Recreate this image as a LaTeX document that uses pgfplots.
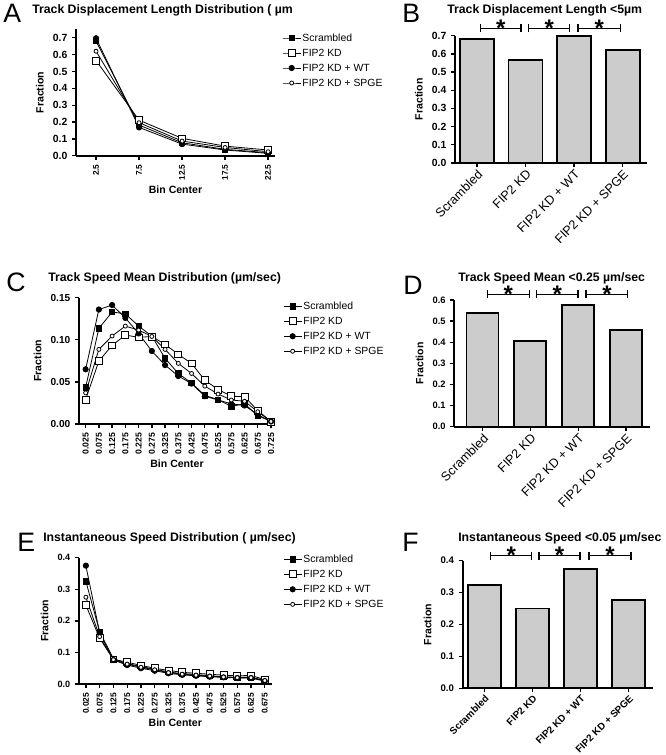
\documentclass[border=0pt]{standalone}
\usepackage{fontspec}
\setmainfont{Liberation Sans}
\usepackage{pgfplots}
\usepackage{pgfplotstable}
\pgfplotsset{compat=1.18}
\usetikzlibrary{arrows.meta}

\pgfplotstableread{
x s k w p
2.5 0.680 0.565 0.697 0.620
7.5 0.182 0.211 0.168 0.196
12.5 0.077 0.103 0.069 0.087
17.5 0.038 0.057 0.034 0.049
22.5 0.018 0.034 0.014 0.024
}\tabA

\pgfplotstableread{
x s k w p
0.025 0.0435 0.0290 0.0650 0.0370
0.075 0.1136 0.0748 0.1360 0.0886
0.125 0.1330 0.0934 0.1413 0.1045
0.175 0.1310 0.1057 0.1260 0.1163
0.225 0.1163 0.1029 0.1076 0.1116
0.275 0.1045 0.1040 0.0867 0.1040
0.325 0.0780 0.0946 0.0700 0.0886
0.375 0.0600 0.0827 0.0570 0.0720
0.425 0.0487 0.0720 0.0480 0.0600
0.475 0.0340 0.0520 0.0330 0.0450
0.525 0.0290 0.0410 0.0285 0.0356
0.575 0.0210 0.0330 0.0240 0.0285
0.625 0.0240 0.0324 0.0220 0.0270
0.675 0.0100 0.0160 0.0110 0.0146
0.725 0.0030 0.0030 0.0030 0.0030
}\tabC

\pgfplotstableread{
x s k w p
0.025 0.325 0.250 0.375 0.275
0.075 0.166 0.145 0.162 0.150
0.125 0.080 0.078 0.076 0.077
0.175 0.065 0.069 0.060 0.063
0.225 0.055 0.059 0.050 0.053
0.275 0.047 0.050 0.042 0.045
0.325 0.038 0.043 0.034 0.036
0.375 0.033 0.037 0.029 0.031
0.425 0.030 0.034 0.026 0.028
0.475 0.026 0.031 0.023 0.025
0.525 0.023 0.028 0.021 0.022
0.575 0.021 0.026 0.019 0.020
0.625 0.021 0.027 0.019 0.020
0.675 0.012 0.014 0.009 0.011
}\tabE

\tikzset{
  brk/.style={line width=1pt, {Bar[width=6pt]}-{Bar[width=6pt]}},
  ast/.style={font=\bfseries\fontsize{18}{18}\selectfont, anchor=base, inner sep=0pt, yshift=-6.2pt},
}

\pgfplotsset{
  legend image code/.code={\draw[mark repeat=2,mark phase=2,#1] plot coordinates {(0pt,0pt) (6.75pt,0pt) (13.5pt,0pt)};},
  gp/.style={scale only axis, anchor=south west, axis lines=left,
    axis line style={line width=1.4pt,-},
    every tick/.style={line width=1pt,black},
    tick align=outside, major tick length=3pt,
    /pgf/number format/assume math mode=true,
    tick label style={font=\bfseries\fontsize{7}{8}\selectfont},
    label style={font=\bfseries\fontsize{7.9}{9}\selectfont},
    ylabel={Fraction}, clip=false},
  lin/.style={gp, xlabel={Bin Center}, legend cell align=left,
    xlabel style={yshift=3pt},
    xticklabel style={rotate=90, anchor=east},
    legend style={at={(axis description cs:1,1)}, anchor=north west, draw=none, fill=none,
      inner sep=0pt, font=\fontsize{7.8}{9}\selectfont,
      nodes={text height=6pt, text depth=1pt, inner sep=1pt}, row sep=2.25pt}},
  bars/.style={gp, xmin=-0.45, xmax=3.5, xtick={0,1,2,3},
    xticklabels={Scrambled,FIP2 KD,FIP2 KD + WT,FIP2 KD + SPGE},
    xticklabel style={rotate=45, anchor=north east, inner sep=1pt, font=\fontsize{9.5}{10}\selectfont}},
  sc/.style={black, line width=0.6pt, mark=square*, mark size=2pt, mark options={solid, fill=black}},
  kd/.style={black, line width=0.6pt, mark=square*, mark size=2.6pt, mark options={solid, fill=white}},
  wt/.style={black, line width=0.6pt, mark=*, mark size=2pt, mark options={solid, fill=black}},
  sp/.style={black, line width=0.6pt, mark=*, mark size=1.5pt, mark options={solid, fill=white}},
  br/.style={fill=black!20, draw=black, line width=1.4pt},
}

\begin{document}
\begin{tikzpicture}
\useasboundingbox (0,0) rectangle (498.75pt,-566.25pt);

% ---------- A ----------
\begin{axis}[lin, at={(57pt,-116.8pt)}, width=149.25pt, height=94.8pt,
  xmin=0.17, xmax=23.3, ymin=0, ymax=0.75,
  xtick={2.5,7.5,12.5,17.5,22.5}, ytick={0,0.1,0.2,0.3,0.4,0.5,0.6,0.7},
  xticklabel style={font=\bfseries\fontsize{6.2}{7}\selectfont, /pgf/number format/.cd, fixed, fixed zerofill, precision=1},
  yticklabel style={font=\bfseries\fontsize{7.8}{8}\selectfont, /pgf/number format/.cd, fixed, fixed zerofill, precision=1},
  legend style={xshift=5.25pt, yshift=-1.8pt}]
\addplot[sc] table[x=x,y=s] \tabA;
\addplot[kd] table[x=x,y=k] \tabA;
\addplot[wt] table[x=x,y=w] \tabA;
\addplot[sp] table[x=x,y=p] \tabA;
\legend{Scrambled,FIP2 KD,FIP2 KD + WT,FIP2 KD + SPGE}
\end{axis}

% ---------- B ----------
\begin{axis}[bars, at={(341.25pt,-122.25pt)}, width=144pt, height=95.5pt,
  ymin=0, ymax=0.7, ytick={0,0.1,0.2,0.3,0.4,0.5,0.6,0.7},
  yticklabel style={font=\bfseries\fontsize{7.8}{8}\selectfont, /pgf/number format/.cd, fixed, fixed zerofill, precision=1}]
\addplot[br, ybar, bar width=25.5pt] coordinates {(0,0.680) (1,0.565) (2,0.697) (3,0.620)};
\draw[brk] (axis cs:0.06,0.74) -- (axis cs:0.92,0.74);
\draw[brk] (axis cs:1.05,0.74) -- (axis cs:1.92,0.74);
\draw[brk] (axis cs:2.07,0.74) -- (axis cs:2.97,0.74);
\node[ast] at (axis cs:0.49,0.74) {*};
\node[ast] at (axis cs:1.49,0.74) {*};
\node[ast] at (axis cs:2.52,0.74) {*};
\end{axis}

% ---------- C ----------
\begin{axis}[lin, at={(59.25pt,-318pt)}, width=147pt, height=94.7pt,
  xmin=0, xmax=0.74, ymin=0, ymax=0.15,
  xtick={0.025,0.075,0.125,0.175,0.225,0.275,0.325,0.375,0.425,0.475,0.525,0.575,0.625,0.675,0.725},
  xticklabels={0.025,0.075,0.125,0.175,0.225,0.275,0.325,0.375,0.425,0.475,0.525,0.575,0.625,0.675,0.725},
  xticklabel style={font=\bfseries\fontsize{6.5}{7}\selectfont},
  ytick={0,0.05,0.1,0.15},
  yticklabel style={font=\bfseries\fontsize{7.6}{8}\selectfont, /pgf/number format/.cd, fixed, fixed zerofill, precision=2},
  legend style={xshift=6pt, yshift=-1.7pt}]
\addplot[sc] table[x=x,y=s] \tabC;
\addplot[kd] table[x=x,y=k] \tabC;
\addplot[wt] table[x=x,y=w] \tabC;
\addplot[sp] table[x=x,y=p] \tabC;
\legend{Scrambled,FIP2 KD,FIP2 KD + WT,FIP2 KD + SPGE}
\end{axis}

% ---------- D ----------
\begin{axis}[bars, at={(340.7pt,-320pt)}, width=146.8pt, height=95pt,
  xmin=-0.59, xmax=3.5,
  ymin=0, ymax=0.6, ytick={0,0.1,0.2,0.3,0.4,0.5,0.6},
  yticklabel style={font=\bfseries\fontsize{7}{8}\selectfont, /pgf/number format/.cd, fixed, fixed zerofill, precision=1}]
\addplot[br, ybar, bar width=24pt] coordinates {(0,0.537) (1,0.407) (2,0.575) (3,0.459)};
\draw[brk] (axis cs:0.09,0.627) -- (axis cs:0.99,0.627);
\draw[brk] (axis cs:1.11,0.627) -- (axis cs:2.01,0.627);
\draw[brk] (axis cs:2.15,0.627) -- (axis cs:3.05,0.627);
\node[ast] at (axis cs:0.54,0.627) {*};
\node[ast] at (axis cs:1.56,0.627) {*};
\node[ast] at (axis cs:2.6,0.627) {*};
\end{axis}

% ---------- E ----------
\begin{axis}[lin, at={(59.25pt,-513pt)}, width=144.5pt, height=94.7pt,
  xmin=0, xmax=0.7, ymin=0, ymax=0.4,
  xtick={0.025,0.075,0.125,0.175,0.225,0.275,0.325,0.375,0.425,0.475,0.525,0.575,0.625,0.675},
  xticklabels={0.025,0.075,0.125,0.175,0.225,0.275,0.325,0.375,0.425,0.475,0.525,0.575,0.625,0.675},
  xticklabel style={font=\bfseries\fontsize{6.3}{7}\selectfont},
  ytick={0,0.1,0.2,0.3,0.4},
  yticklabel style={font=\bfseries\fontsize{6.8}{8}\selectfont, /pgf/number format/.cd, fixed, fixed zerofill, precision=1},
  legend style={xshift=8.5pt, yshift=3.5pt}]
\addplot[sc] table[x=x,y=s] \tabE;
\addplot[kd] table[x=x,y=k] \tabE;
\addplot[wt] table[x=x,y=w] \tabE;
\addplot[sp] table[x=x,y=p] \tabE;
\legend{Scrambled,FIP2 KD,FIP2 KD + WT,FIP2 KD + SPGE}
\end{axis}

% ---------- F ----------
\begin{axis}[bars, at={(347pt,-516.2pt)}, width=143pt, height=95.7pt,
  xmin=-0.45, xmax=3.51,
  ymin=0, ymax=0.4, ytick={0,0.1,0.2,0.3,0.4},
  yticklabel style={font=\bfseries\fontsize{7.2}{8}\selectfont, /pgf/number format/.cd, fixed, fixed zerofill, precision=1},
  xticklabel style={font=\bfseries\fontsize{7.4}{8}\selectfont}]
\addplot[br, ybar, bar width=24.75pt] coordinates {(0,0.325) (1,0.250) (2,0.375) (3,0.276)};
\draw[brk] (axis cs:0.12,0.4157) -- (axis cs:1.0,0.4157);
\draw[brk] (axis cs:1.12,0.4157) -- (axis cs:2.0,0.4157);
\draw[brk] (axis cs:2.16,0.4157) -- (axis cs:3.06,0.4157);
\node[ast] at (axis cs:0.56,0.4157) {*};
\node[ast] at (axis cs:1.56,0.4157) {*};
\node[ast] at (axis cs:2.61,0.4157) {*};
\end{axis}

% ---------- letters and titles ----------
\begin{scope}[x=0.75pt, y=-0.75pt]
\tikzset{lt/.style={anchor=base west, inner sep=0pt, font=\fontsize{20}{20}\selectfont},
         tt/.style={anchor=base west, inner sep=0pt, font=\bfseries\fontsize{9.2}{11}\selectfont}}
\node[lt] at (3,22.3) {A};
\node[lt] at (402,23) {B};
\node[lt] at (6,291.7) {C};
\node[lt] at (403,294.3) {D};
\node[lt] at (17,551.7) {E};
\node[lt] at (402,551.7) {F};
\node[tt] at (32,14) {Track Displacement Length Distribution ( µm};
\node[tt] at (447,14) {Track Displacement Length <5µm};
\node[tt] at (48,281) {Track Speed Mean Distribution (µm/sec)};
\node[tt] at (458,281) {Track Speed Mean <0.25 µm/sec};
\node[tt] at (43,541) {Instantaneous Speed Distribution ( µm/sec)};
\node[tt] at (458,541) {Instantaneous Speed <0.05 µm/sec};
\end{scope}
\end{tikzpicture}
\end{document}
